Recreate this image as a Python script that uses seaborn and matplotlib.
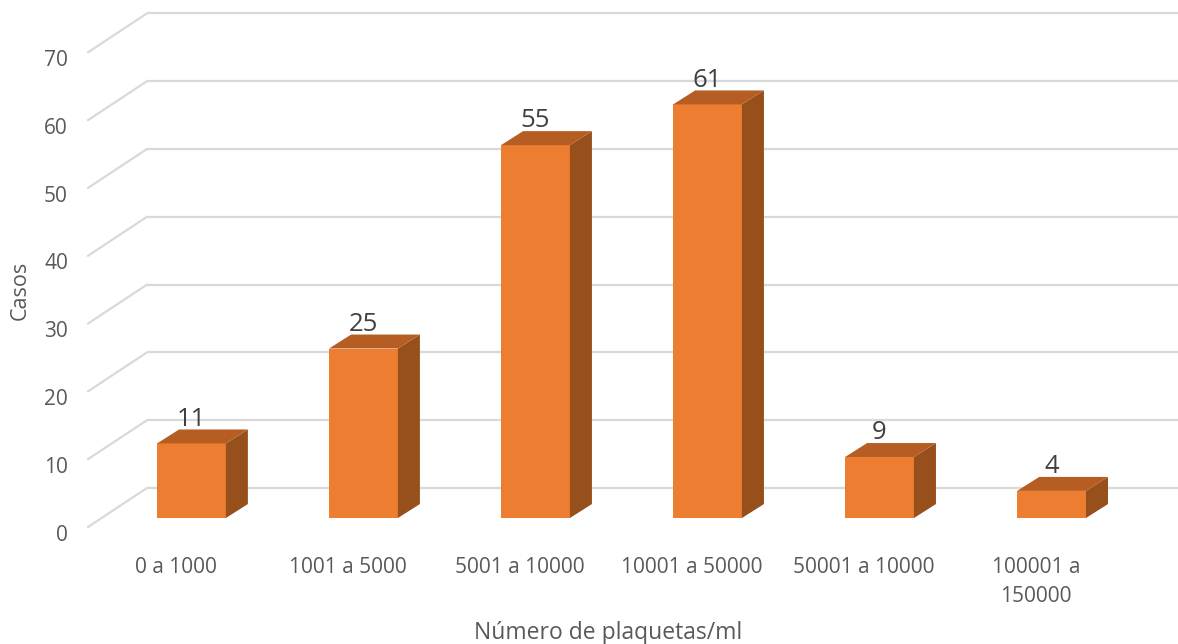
import matplotlib
matplotlib.use("Agg")
import matplotlib.pyplot as plt
from matplotlib.patches import Polygon
import seaborn as sns
import pandas as pd

categories = ["0 a 1000", "1001 a 5000", "5001 a 10000", "10001 a 50000",
              "50001 a 10000", "100001 a\n150000"]
casos = [11, 25, 55, 61, 9, 4]
tick_values = [0, 10, 20, 30, 40, 50, 60, 70]

FRONT = "#ED7D31"
TOP = "#B55D22"
SIDE = "#974F1C"
GRID = "#D9D9D9"
TEXT = "#595959"

sns.set_theme(style="white")
plt.rcParams["font.family"] = ["Open Sans", "DejaVu Sans"]

fig = plt.figure(figsize=(11.78, 6.44), dpi=100)
ax = fig.add_axes([0, 0, 1, 1])

df = pd.DataFrame({"rango": categories, "casos": casos})
sns.barplot(data=df, x="rango", y="casos", order=categories, width=0.4,
            color=FRONT, saturation=1, linewidth=0, ax=ax, zorder=3)

# oblique projection offsets (category units, value units)
half = 0.2
bar_dx, bar_dy = 0.128, 2.06       # bar depth
wall_dx, wall_dy = -0.259, 4.42    # back wall left edge / lift
floor_x, floor_dy = -0.602, -1.33  # front edge of the left wall
right_x = 5.9

# back wall gridlines and left wall diagonals
for v in tick_values:
    ax.plot([wall_dx, right_x], [v + wall_dy, v + wall_dy], color=GRID,
            lw=1.6, zorder=1, solid_capstyle="butt")
    ax.plot([floor_x, wall_dx], [v + floor_dy, v + wall_dy], color=GRID,
            lw=1.6, zorder=1)
    ax.text(-0.718, v + floor_dy - 1.2, str(v), ha="right", va="center",
            fontsize=15, color=TEXT)

# side and top faces of each bar
for i, v in enumerate(casos):
    x0, x1 = i - half, i + half
    side = Polygon([(x1, 0), (x1 + bar_dx, bar_dy), (x1 + bar_dx, v + bar_dy), (x1, v)],
                   closed=True, facecolor=SIDE, edgecolor="none", zorder=3)
    top = Polygon([(x0, v), (x1, v), (x1 + bar_dx, v + bar_dy), (x0 + bar_dx, v + bar_dy)],
                  closed=True, facecolor=TOP, edgecolor="none", zorder=3)
    ax.add_patch(side)
    ax.add_patch(top)
    ax.text(i, v + 3.6, str(v), ha="center", va="center",
            fontsize=18.5, color="#404040", zorder=4)

# category labels
for i, c in enumerate(categories):
    ax.text(i - 0.09, -5.7, c, ha="center", va="top", fontsize=15,
            color=TEXT, linespacing=1.55)

ax.text(-0.997, 33.6, "Casos", rotation=90, ha="center", va="center",
        fontsize=15.5, color=TEXT)
ax.text(2.42, -16.9, "Número de plaquetas/ml", ha="center", va="center",
        fontsize=16.5, color=TEXT)

ax.set_xlim(-1.113, 5.735)
ax.set_ylim(-18.58, 76.4)
ax.set_axis_off()

fig.savefig("out.png", dpi=100)
